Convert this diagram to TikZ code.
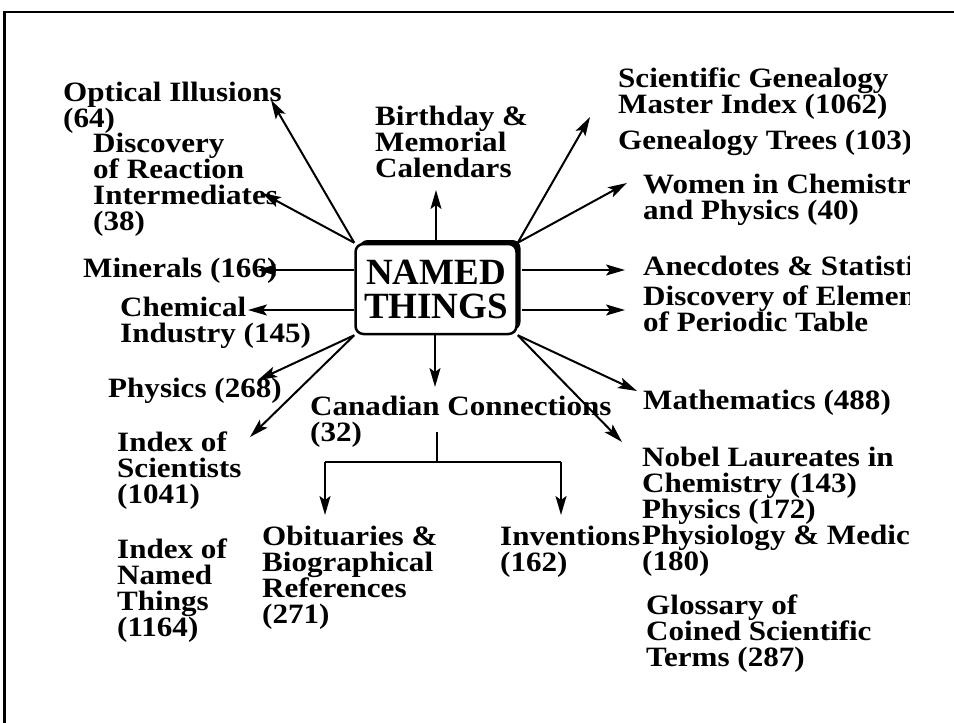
\documentclass[tikz,border=0pt]{standalone}
\usepackage{fontspec}
\setmainfont{Liberation Serif}[FakeStretch=1.11]
\newfontfamily\boxfont{Liberation Serif}
\usetikzlibrary{arrows.meta,shadows,calc}
\tikzset{
  % multi-line labels: the base anchor sits on the last line's baseline
  lbl/.style={anchor=base west, inner sep=0pt, align=left,
    font=\fontsize{28}{26}\selectfont\bfseries},
  hub/.style={draw, line width=2.5pt, fill=white, rounded corners=8pt,
    minimum width=161pt, minimum height=90pt, inner sep=0pt, align=center,
    font=\boxfont\fontsize{37}{34}\selectfont\bfseries,
    general shadow={fill=black, shadow xshift=4pt, shadow yshift=4pt}},
  conn/.style={line width=2pt, -{Stealth[length=19pt,width=11pt,inset=4pt]}},
  link/.style={line width=2pt}
}
\begin{document}
\begin{tikzpicture}[x=1pt,y=-1pt]
\useasboundingbox (0,0) rectangle (954,723);
% open frame: top and left edges
\draw[line width=2.5pt] (4.5,723) -- (4.5,12) -- (954,12);

% central hub
\node[hub] (nt) at (436,289) {NAMED\\THINGS};

% topic labels (text runs off the right side of the sheet)
\begin{scope}
\clip (0,0) rectangle (909,723);
\node[lbl] (opt)   at (63,127)  {Optical Illusions\\(64)};
\node[lbl] (rxn)   at (93,230)  {Discovery\\of Reaction\\Intermediates\\(38)};
\node[lbl] (mnr)   at (83,277)  {Minerals (166)};
\node[lbl] (chem)  at (120,342) {Chemical\\Industry (145)};
\node[lbl] (phys)  at (108,397) {Physics (268)};
\node[lbl] (idxs)  at (117,503) {Index of\\Scientists\\(1041)};
\node[lbl] (idxn)  at (117,636) {Index of\\Named\\Things\\(1164)};
\node[lbl] (bday)  at (375,177) {Birthday \&\\Memorial\\Calendars};
\node[lbl] (sg)    at (618,113) {Scientific Genealogy\\Master Index (1062)};
\node[lbl] (gt)    at (618,149) {Genealogy Trees (103)};
\node[lbl] (wom)   at (643,219) {Women in Chemistry\\and Physics (40)};
\node[lbl] (anec)  at (643,275) {Anecdotes \& Statistics};
\node[lbl] (disc)  at (643,331) {Discovery of Elements\\of Periodic Table};
\node[lbl] (math)  at (643,409) {Mathematics (488)};
\node[lbl] (nob)   at (642,570) {Nobel Laureates in\\Chemistry (143)\\Physics (172)\\Physiology \& Medicine\\(180)};
\node[lbl] (gls)   at (646,666) {Glossary of\\Coined Scientific\\Terms (287)};
\node[lbl] (can)   at (310,441) {Canadian Connections\\(32)};
\node[lbl] (obit)  at (262,623) {Obituaries \&\\Biographical\\References\\(271)};
\node[lbl] (inv)   at (500,571) {Inventions\\(162)};
\end{scope}

% arrow tips beside the labels
\coordinate (optT)  at (271,100);
\coordinate (rxnT)  at (262,193);
\coordinate (mnrT)  at (257,270);
\coordinate (chemT) at (248,310);
\coordinate (physT) at (258,380);
\coordinate (idxT)  at (250,437);
\coordinate (bdayT) at (436,190);
\coordinate (canT)  at (435,387);
\coordinate (sgT)   at (590,117);
\coordinate (womT)  at (627,183);
\coordinate (anecT) at (625,270);
\coordinate (discT) at (625,310);
\coordinate (mathT) at (637,391);
\coordinate (nobT)  at (622,442);

% spokes from the hub
\draw[conn] (nt.north west) -- (optT);
\draw[conn] (nt.north west) -- (rxnT);
\draw[conn] ($(nt.west)+(0,-19)$) -- (mnrT);
\draw[conn] ($(nt.west)+(0,21)$) -- (chemT);
\draw[conn] (nt.south west) -- (physT);
\draw[conn] (nt.south west) -- (idxT);
\draw[conn] (nt.north) -- (bdayT);
\draw[conn] ($(nt.south)+(-1,0)$) -- (canT);
\draw[conn] (nt.north east) -- (sgT);
\draw[conn] (nt.north east) -- (womT);
\draw[conn] ($(nt.east)+(4,-19)$) -- (anecT);
\draw[conn] ($(nt.east)+(4,21)$) -- (discT);
\draw[conn] (nt.south east) -- (mathT);
\draw[conn] (nt.south east) -- (nobT);

% branch below Canadian Connections
\coordinate (canB)  at (437,432);
\coordinate (split) at (437,462);
\coordinate (lftB)  at (325,462);
\coordinate (rgtB)  at (561,462);
\coordinate (obitT) at (325,515);
\coordinate (invT)  at (561,515);
\draw[link] (canB) -- (split);
\draw[link] (lftB) -- (rgtB);
\draw[conn] (lftB) -- (obitT);
\draw[conn] (rgtB) -- (invT);
\end{tikzpicture}
\end{document}
